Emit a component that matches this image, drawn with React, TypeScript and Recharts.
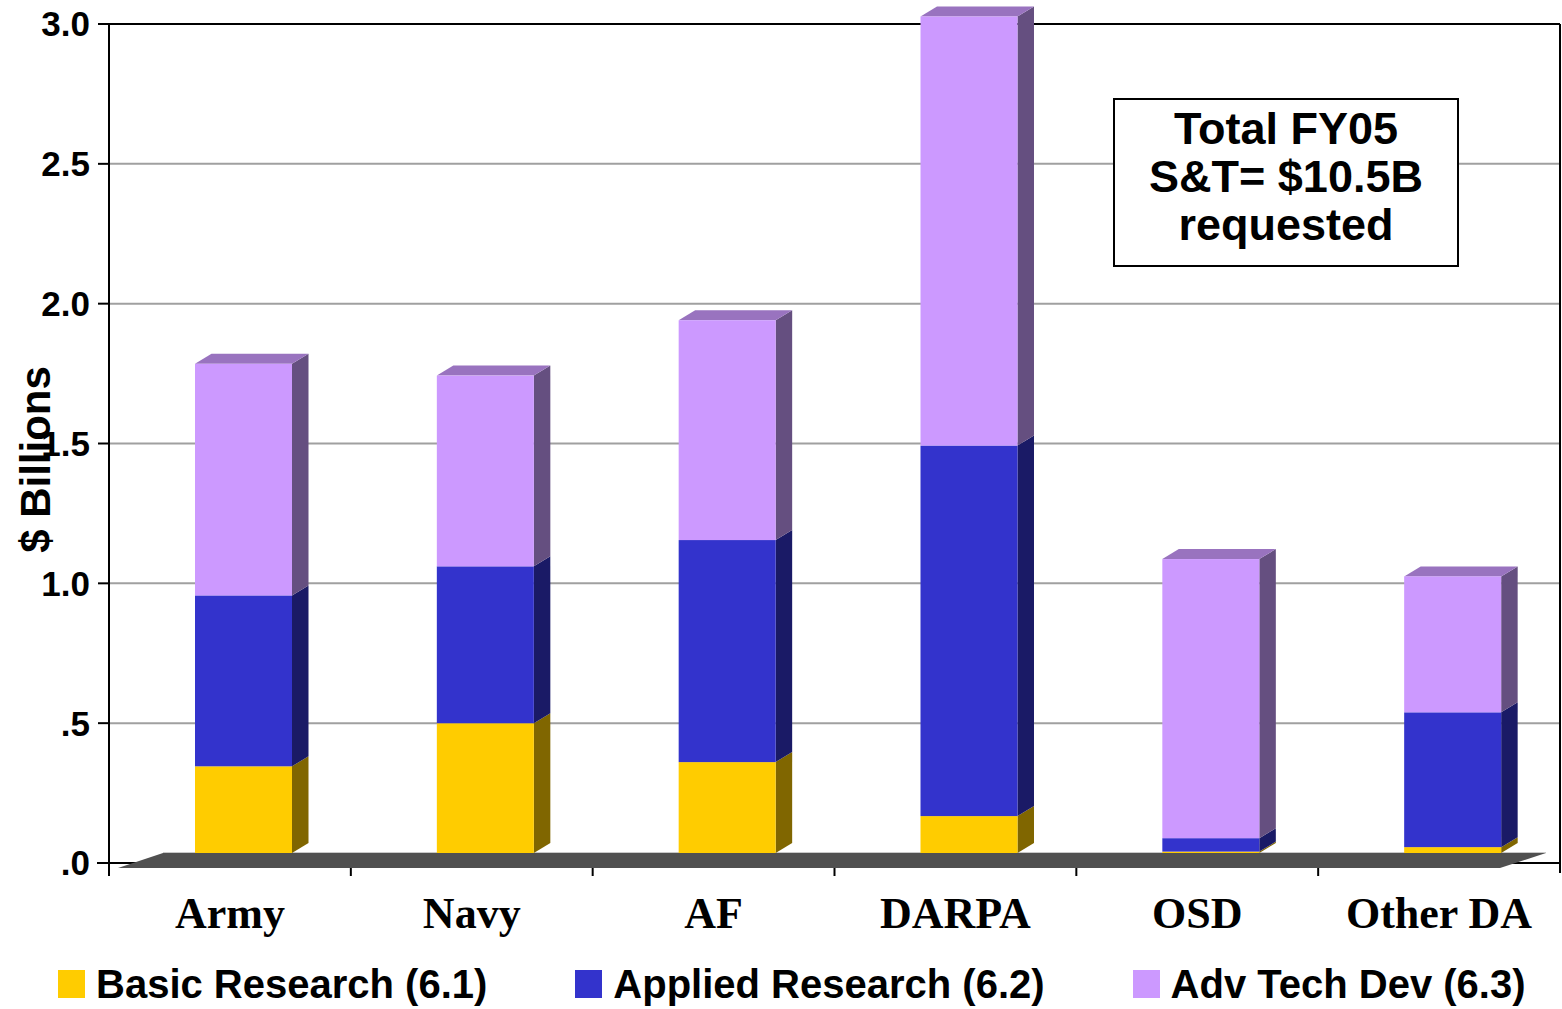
import React from 'react';
import { BarChart, Bar, XAxis, YAxis, CartesianGrid, ReferenceArea, Label } from 'recharts';

const categories = ['Army', 'Navy', 'AF', 'DARPA', 'OSD', 'Other DA'];
const basicResearch = [0.31, 0.464, 0.325, 0.132, 0.005, 0.021];
const appliedResearch = [0.611, 0.561, 0.794, 1.325, 0.048, 0.482];
const advTechDev = [0.828, 0.682, 0.786, 1.534, 0.998, 0.486];
const yTicks = [0, 0.5, 1, 1.5, 2, 2.5, 3];
const yTickLabels = ['.0', '.5', '1.0', '1.5', '2.0', '2.5', '3.0'];
const seriesKeys = ['basic', 'applied', 'adv'];
const seriesNames = ['Basic Research (6.1)', 'Applied Research (6.2)', 'Adv Tech Dev (6.3)'];
const frontColors = ['#FFCC00', '#3333CC', '#CC99FF'];
const sideColors = ['#806600', '#1A1A66', '#654F80'];
const topColors = ['#B39000', '#26268F', '#9973BF'];
const boxLines = ['Total FY05', 'S&T= $10.5B', 'requested'];
const yAxisTitle = '$ Billions';

const data = categories.map((c, i) => ({
  name: c,
  basic: basicResearch[i],
  applied: appliedResearch[i],
  adv: advTechDev[i],
}));

const CHART_W = 1562;
const CHART_H = 1009;
const MARGIN = { top: 24, right: 2, left: 0, bottom: 0 };
const Y_AXIS_W = 109;
const X_AXIS_H = 146;
const PLOT_W = CHART_W - MARGIN.left - MARGIN.right - Y_AXIS_W;
const HALF_BAND = PLOT_W / categories.length / 2;

const SANS = '"Liberation Sans", Arial, Helvetica, sans-serif';
const SERIF = '"Liberation Serif", "Times New Roman", Times, serif';

const DEPTH_X = 16.5;
const DEPTH_Y = 10;
const SHIFT_X = 14;
const SHIFT_Y = -10;

function make3DBar(i: number, drawTop: boolean) {
  return (props: any) => {
    const { x, y, width, height } = props;
    if (x == null || y == null || width == null || height == null) return <g />;
    const fx = x + SHIFT_X;
    const fy = y + SHIFT_Y;
    const h = Math.max(height, 0);
    return (
      <g>
        <polygon
          points={`${fx + width},${fy} ${fx + width + DEPTH_X},${fy - DEPTH_Y} ${fx + width + DEPTH_X},${fy - DEPTH_Y + h} ${fx + width},${fy + h}`}
          fill={sideColors[i]}
        />
        {drawTop && (
          <polygon
            points={`${fx},${fy} ${fx + DEPTH_X},${fy - DEPTH_Y} ${fx + width + DEPTH_X},${fy - DEPTH_Y} ${fx + width},${fy}`}
            fill={topColors[i]}
          />
        )}
        <rect x={fx} y={fy} width={width} height={h} fill={frontColors[i]} />
      </g>
    );
  };
}

const PlotFrame = (props: any) => {
  const { x, y, width, height } = props;
  if (x == null || y == null) return <g />;
  const b = y + height;
  const r = x + width;
  return (
    <g>
      <line x1={x - 12} y1={b} x2={r} y2={b} stroke="#000" strokeWidth={2} />
      <polygon points={`${x + 9},${b + 5} ${x + 54},${b - 10} ${r - 14},${b - 10} ${r - 60},${b + 5}`} fill="#505050" />
      <line x1={x + 54} y1={b - 10.5} x2={r - 14} y2={b - 10.5} stroke="#c8c8c8" strokeWidth={1} />
      <line x1={x} y1={y} x2={r} y2={y} stroke="#000" strokeWidth={2} />
      <line x1={r} y1={y} x2={r} y2={b + 10} stroke="#000" strokeWidth={2} />
      <line x1={x} y1={b} x2={x} y2={b + 12} stroke="#000" strokeWidth={2} />
    </g>
  );
};

const XTick = (props: any) => {
  const { x, y, payload } = props;
  return (
    <g>
      <line x1={x - HALF_BAND} y1={y + 5} x2={x - HALF_BAND} y2={y + 13} stroke="#000" strokeWidth={2} />
      <text x={x} y={y + 65} textAnchor="middle" fontFamily={SERIF} fontWeight="bold" fontSize={44} fill="#000">
        {payload.value}
      </text>
    </g>
  );
};

const YTitle = (props: any) => {
  const vb = props.viewBox;
  if (!vb) return null;
  const cx = vb.x + 50;
  const cy = vb.y + vb.height / 2 + 16;
  return (
    <text
      x={cx}
      y={cy}
      transform={`rotate(-90, ${cx}, ${cy})`}
      textAnchor="middle"
      fontFamily={SANS}
      fontWeight="bold"
      fontSize={42}
      fill="#000"
    >
      {yAxisTitle}
    </text>
  );
};

export default function App() {
  return (
    <div style={{ position: 'absolute', left: 0, top: 0, width: CHART_W, height: CHART_H, background: '#fff' }}>
      <BarChart width={CHART_W} height={CHART_H} data={data} margin={MARGIN} barSize={97}>
        <CartesianGrid horizontal vertical={false} stroke="#a0a0a0" strokeWidth={2} />
        <XAxis
          dataKey="name"
          height={X_AXIS_H}
          axisLine={false}
          tickLine={false}
          tickSize={0}
          tickMargin={0}
          interval={0}
          tick={<XTick />}
        />
        <YAxis
          width={Y_AXIS_W}
          domain={[0, 3]}
          ticks={yTicks}
          interval={0}
          tickFormatter={(v: number) => yTickLabels[yTicks.indexOf(v)]}
          axisLine={{ stroke: '#000', strokeWidth: 2 }}
          tickLine={{ stroke: '#000', strokeWidth: 2 }}
          tickSize={11}
          tickMargin={8}
          tick={{ fontFamily: SANS, fontWeight: 'bold', fontSize: 35, fill: '#000' }}
        >
          <Label content={<YTitle />} />
        </YAxis>
        <ReferenceArea y1={0} y2={3} shape={<PlotFrame />} isFront={false} />
        {seriesKeys.map((k, i) => (
          <Bar
            key={k}
            dataKey={k}
            name={seriesNames[i]}
            stackId="s"
            isAnimationActive={false}
            shape={make3DBar(i, i === seriesKeys.length - 1)}
          />
        ))}
      </BarChart>
      <div
        style={{
          position: 'absolute',
          left: 1113,
          top: 98,
          width: 346,
          height: 169,
          boxSizing: 'border-box',
          border: '2px solid #000',
          background: '#fff',
          paddingTop: 5,
          textAlign: 'center',
          fontFamily: SANS,
          fontWeight: 'bold',
          fontSize: 45,
          lineHeight: '48px',
          color: '#000',
        }}
      >
        {boxLines.map((l) => (
          <div key={l} style={{ whiteSpace: 'nowrap' }}>{l}</div>
        ))}
      </div>
      <div style={{ position: 'absolute', left: 58, top: 964, display: 'flex', gap: 88 }}>
        {seriesNames.map((n, i) => (
          <div key={n} style={{ display: 'flex', alignItems: 'center', height: 40 }}>
            <div style={{ width: 27, height: 28, background: frontColors[i], marginRight: 11 }} />
            <span style={{ fontFamily: SANS, fontWeight: 'bold', fontSize: 40, lineHeight: '40px', whiteSpace: 'nowrap', color: '#000' }}>
              {n}
            </span>
          </div>
        ))}
      </div>
    </div>
  );
}
